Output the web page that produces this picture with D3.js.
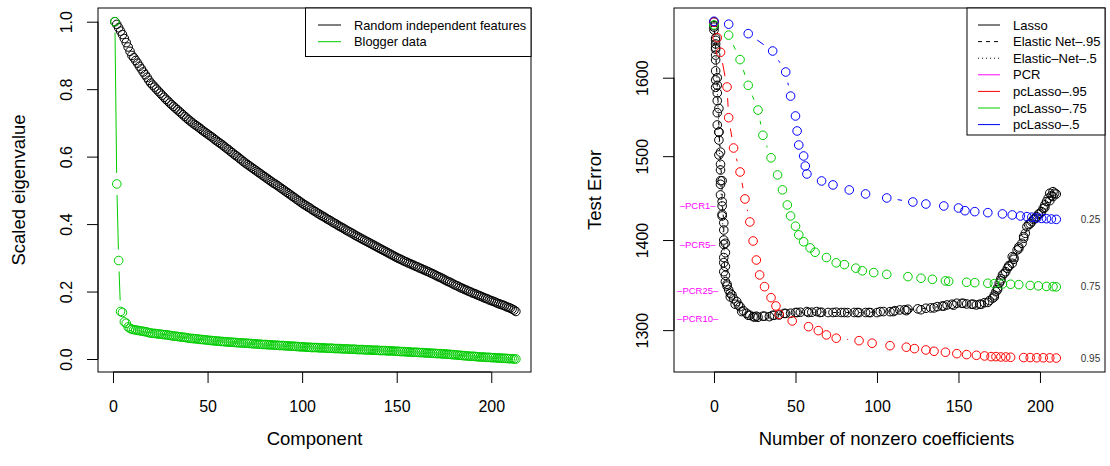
<!DOCTYPE html>
<html><head><meta charset="utf-8">
<script src="https://cdn.jsdelivr.net/npm/d3@7"></script>
<style>body{margin:0;background:#fff}</style>
</head><body>
<script>
// ---------------- DATA ----------------
// Left panel: scaled eigenvalues by component (1..213)
const randomEig = [1.000,0.992,0.982,0.972,0.962,0.950,0.938,0.925,0.912,0.900,
0.893,0.885,0.877,0.868,0.860,0.851,0.843,0.835,0.826,0.818,
0.812,0.806,0.800,0.794,0.788,0.782,0.776,0.770,0.765,0.759,
0.754,0.749,0.744,0.739,0.734,0.729,0.724,0.719,0.714,0.709,
0.705,0.700,0.696,0.692,0.688,0.684,0.679,0.675,0.671,0.667,
0.663,0.659,0.655,0.650,0.646,0.642,0.638,0.634,0.629,0.625,
0.621,0.616,0.612,0.607,0.603,0.599,0.594,0.590,0.585,0.581,
0.577,0.573,0.569,0.565,0.561,0.557,0.553,0.549,0.545,0.541,
0.537,0.533,0.529,0.525,0.521,0.518,0.514,0.510,0.506,0.502,
0.498,0.494,0.490,0.486,0.482,0.478,0.474,0.470,0.466,0.462,
0.458,0.455,0.451,0.448,0.444,0.440,0.437,0.433,0.430,0.426,
0.423,0.420,0.416,0.413,0.410,0.406,0.403,0.400,0.396,0.393,
0.390,0.387,0.383,0.380,0.377,0.374,0.371,0.367,0.364,0.361,
0.358,0.355,0.352,0.349,0.346,0.343,0.340,0.337,0.334,0.331,
0.328,0.325,0.322,0.319,0.316,0.313,0.310,0.307,0.304,0.301,
0.298,0.296,0.293,0.290,0.288,0.285,0.283,0.280,0.278,0.275,
0.273,0.270,0.268,0.265,0.263,0.260,0.258,0.255,0.253,0.250,
0.247,0.244,0.242,0.239,0.236,0.233,0.230,0.228,0.225,0.222,
0.219,0.217,0.214,0.211,0.209,0.206,0.204,0.201,0.199,0.196,
0.194,0.192,0.189,0.187,0.185,0.182,0.180,0.178,0.175,0.173,
0.171,0.169,0.166,0.164,0.162,0.160,0.158,0.155,0.153,0.151,
0.148,0.145,0.141];
const bloggerEig = [1.000,0.519,0.292,0.141,0.138,0.110,0.106,0.095,0.091,0.088,
0.087,0.086,0.085,0.084,0.083,0.082,0.081,0.080,0.078,0.077,
0.076,0.076,0.075,0.074,0.074,0.073,0.072,0.072,0.071,0.070,
0.069,0.068,0.068,0.067,0.066,0.065,0.065,0.064,0.063,0.062,
0.061,0.061,0.060,0.060,0.059,0.058,0.058,0.057,0.057,0.056,
0.055,0.055,0.054,0.054,0.053,0.053,0.052,0.052,0.051,0.051,
0.050,0.050,0.050,0.049,0.049,0.048,0.048,0.048,0.047,0.047,
0.047,0.046,0.046,0.045,0.045,0.045,0.044,0.044,0.043,0.043,
0.043,0.042,0.042,0.042,0.041,0.041,0.041,0.040,0.040,0.040,
0.039,0.039,0.039,0.038,0.038,0.038,0.037,0.037,0.036,0.036,
0.036,0.035,0.035,0.035,0.034,0.034,0.034,0.034,0.033,0.033,
0.033,0.033,0.032,0.032,0.032,0.032,0.031,0.031,0.031,0.031,
0.030,0.030,0.030,0.030,0.029,0.029,0.029,0.029,0.028,0.028,
0.028,0.028,0.027,0.027,0.027,0.027,0.026,0.026,0.026,0.026,
0.025,0.025,0.025,0.025,0.024,0.024,0.024,0.024,0.023,0.023,
0.023,0.022,0.022,0.022,0.021,0.021,0.021,0.020,0.020,0.020,
0.020,0.019,0.019,0.019,0.018,0.018,0.018,0.017,0.017,0.017,
0.016,0.016,0.016,0.015,0.015,0.015,0.014,0.014,0.013,0.013,
0.012,0.012,0.011,0.011,0.010,0.010,0.009,0.009,0.008,0.008,
0.008,0.007,0.007,0.006,0.006,0.006,0.005,0.005,0.005,0.004,
0.004,0.004,0.003,0.003,0.003,0.002,0.002,0.002,0.001,0.001,0.001,0.000,0.000];
const leftSeriesNames = ["Random independent features","Blogger data"];
const leftXTicks = [0,50,100,150,200];
const leftYTicks = [0.0,0.2,0.4,0.6,0.8,1.0];

// Right panel: test error vs number of nonzero coefficients
const lassoNz  = [0,0,1,1,1,1,1,1,1,2,2,2,3,3,4,4,4,5,5,6,7,7,6,6,7,9,11,14,16,20,24,27,34,40,47,53,60,66,75,82,89,96,100,108,114,119,130,137,143,149,155,161,166,171,173,175,177,180,183,183,186,189,191,192,195,198,201,203,205,206,208];
const lassoErr = [1675,1664,1653,1645,1638,1623.5,1609,1597,1587.4,1570,1554.6,1539,1520,1501.5,1483,1465.7,1452.9,1439.8,1428,1411.6,1396.3,1385.5,1374.2,1364,1352.9,1343.7,1338.2,1330.8,1325.4,1318.2,1314.5,1313.9,1314.5,1316.3,1318.2,1319.3,1319.3,1319.3,1319.3,1318.9,1318.9,1318.9,1318.9,1319.9,1321.8,1322.5,1323.6,1325.4,1327.2,1329.1,1328.3,1327.2,1329.7,1334.6,1341.8,1351.1,1360.4,1367.9,1373.5,1381,1388.6,1396.3,1407.8,1415.5,1421.3,1427.2,1433.1,1441,1448.9,1454.9,1456.8];
const enet95Nz  = [0,1,1,2,2,3,3,4,4,5,5,6,6,6,7,8,10,12,15,18,22,26,31,37,44,50,57,63,70,78,86,93,104,111,117,125,133,140,146,152,158,163,169,172,174,176,179,181,184,187,190,193,196,199,202,204,207,209];
const enet95Err = [1670,1650,1630,1600,1580,1560,1530,1505,1490,1470,1445,1420,1400,1380,1360,1348,1340,1334,1327,1321,1316,1315,1315,1316,1318,1319,1320,1320,1319,1319,1319,1319,1320,1321,1322,1323,1324,1326,1328,1329,1328,1328,1332,1338,1346,1356,1364,1370,1378,1392,1402,1418,1424,1430,1437,1445,1452,1455];
const enet5Nz  = [0,1,2,3,4,5,6,7,8,10,13,17,21,25,30,36,43,51,58,65,73,80,88,95,102,110,118,127,135,141,147,153,159,164,168,172,174,176,178,181,184,187,190,194,197,200,203,206,208,210];
const enet5Err = [1668,1640,1590,1530,1470,1430,1395,1370,1350,1336,1328,1320,1316,1314,1315,1316,1318,1319,1319,1319,1319,1319,1319,1319,1320,1320,1321,1322,1324,1326,1327,1329,1328,1328,1330,1336,1344,1354,1362,1371,1380,1390,1404,1419,1425,1431,1438,1446,1451,1454];
const pc95Nz  = [0,2,4,8,9,12,16,19,22,24,26,28,31,35,38,40,48,58,64,69,75,89,97,108,118,123,130,135,142,149,155,161,166,170,173,176,179,182,190,194,198,202,206,210];
const pc95Err = [1675,1653.5,1633.8,1587.8,1548.2,1510.1,1480.6,1448.1,1421,1398.9,1377.2,1360.4,1347.3,1335.2,1326.1,1317.1,1309.9,1303.7,1299.5,1294.9,1291.4,1288.8,1286.1,1283.5,1281.9,1280.4,1279,1277.6,1276.6,1275.1,1274.1,1273.4,1272.7,1272,1272,1271.6,1271.6,1271.3,1271,1271,1270.8,1270.8,1270.7,1270.5];
const pc75Nz  = [0,9,16,21,27,30,35,39,42,45,47,50,52,55,59,62,69,75,80,87,91,98,106,119,127,134,142,144,155,160,168,172,177,182,187,194,199,204,208,210];
const pc75Err = [1671,1657,1624,1590,1558,1526,1498,1477,1459,1441,1428,1416,1406,1398,1391,1386,1380,1374,1372,1368,1365,1363,1361,1358.5,1356.7,1355.5,1353.7,1353.3,1352.2,1351.8,1351.1,1350.7,1350.3,1350,1349.6,1348.7,1348.2,1347.6,1347.4,1347.1];
const pc50Nz  = [0,9,21,36,44,47,50,51,52,55,56,57,66,73,83,93,106,122,130,141,150,154,160,168,177,183,188,192,195,198,201,204,207,210];
const pc50Err = [1676,1672,1659,1635.5,1607.5,1576,1550.4,1531.4,1513.8,1500.2,1487.9,1478.2,1469.7,1464.9,1458.9,1454.1,1449.3,1444.5,1442.1,1439.8,1437.4,1434.2,1433.1,1431.9,1430.4,1429.2,1428,1427.2,1426.5,1425.6,1425.2,1424.8,1424.4,1424];
const pcrLabels = ["–PCR1–","–PCR5–","–PCR25–","–PCR10–"];
const pcrErr = [1440.6,1395,1342.9,1312.8];
const ratioLabels = ["0.25","0.75","0.95"];
const rightLegendNames = ["Lasso","Elastic Net–.95","Elastic–Net–.5","PCR","pcLasso–.95","pcLasso–.75","pcLasso–.5"];
const rightXTicks = [0,50,100,150,200];
const rightYTicks = [1300,1400,1500,1600];

// ---------------- DRAWING ----------------
const FONT = '"Liberation Sans", Arial, Helvetica, sans-serif';
const W = 1110, H = 466;
const svg = d3.select("body").append("svg").attr("width", W).attr("height", H)
  .style("font-family", FONT);
svg.append("rect").attr("width", W).attr("height", H).attr("fill", "#fff");

const PL = {x0: 98, x1: 531, y0: 8, y1: 372};
const PR = {x0: 674, x1: 1105, y0: 8, y1: 372};

const xL = d3.scaleLinear().domain([-7.93, 221]).range([PL.x0, PL.x1]);
const yL = d3.scaleLinear().domain([-0.0385, 1.0406]).range([PL.y1, PL.y0]);
const xR = d3.scaleLinear().domain([-24.54, 239.9]).range([PR.x0, PR.x1]);
const yR = d3.scaleLog().domain([1256, 1694.4]).range([PR.y1, PR.y0]);

const GREEN = "#00CD00";

function drawB(g, xs, ys, sx, sy, color, opts = {}) {
  const pts = xs.map((x, i) => [sx(x), sy(ys[i])]);
  const gap = opts.gap ?? 11;
  const lg = g.append("g").attr("stroke", color).attr("stroke-width", 1).attr("fill", "none");
  if (opts.dash) lg.attr("stroke-dasharray", opts.dash);
  for (let i = 0; i < pts.length - 1; i++) {
    const [x1, y1] = pts[i], [x2, y2] = pts[i + 1];
    const dx = x2 - x1, dy = y2 - y1, d = Math.hypot(dx, dy);
    if (d <= 2 * gap || d === 0) continue;
    const ux = dx / d, uy = dy / d;
    lg.append("line").attr("x1", x1 + ux * gap).attr("y1", y1 + uy * gap)
      .attr("x2", x2 - ux * gap).attr("y2", y2 - uy * gap);
  }
  g.append("g").selectAll("circle").data(pts).join("circle")
    .attr("cx", d => d[0]).attr("cy", d => d[1]).attr("r", 4.3)
    .attr("fill", "none").attr("stroke", color).attr("stroke-width", 1);
}

function yAxis(scale, ticks, fmt, x) {
  const ax = d3.axisLeft(scale).tickValues(ticks).tickFormat(fmt).tickSize(11).tickSizeOuter(0);
  const a = svg.append("g").attr("transform", `translate(${x},0)`).call(ax)
    .attr("font-family", FONT).attr("font-size", 16);
  a.select(".domain").remove();
  a.selectAll(".tick line").attr("stroke", "#000");
  a.selectAll(".tick text").attr("x", null).attr("dy", null)
    .attr("transform", "translate(-32,0) rotate(-90)")
    .attr("text-anchor", "middle").attr("dominant-baseline", "central").attr("fill", "#000");
  a.append("line").attr("x1", 0).attr("x2", 0)
    .attr("y1", scale(ticks[0])).attr("y2", scale(ticks[ticks.length - 1])).attr("stroke", "#000");
}
function xAxis(scale, ticks, y) {
  const ax = d3.axisBottom(scale).tickValues(ticks).tickSize(11).tickSizeOuter(0).tickPadding(18);
  const a = svg.append("g").attr("transform", `translate(0,${y})`).call(ax)
    .attr("font-family", FONT).attr("font-size", 16);
  a.select(".domain").remove();
  a.selectAll(".tick line").attr("stroke", "#000");
  a.selectAll(".tick text").attr("fill", "#000");
  a.append("line").attr("y1", 0).attr("y2", 0)
    .attr("x1", scale(ticks[0])).attr("x2", scale(ticks[ticks.length - 1])).attr("stroke", "#000");
}
function box(P) {
  svg.append("rect").attr("x", P.x0).attr("y", P.y0).attr("width", P.x1 - P.x0).attr("height", P.y1 - P.y0)
    .attr("fill", "none").attr("stroke", "#000").attr("stroke-width", 1);
}

// ---- Left panel
const gL = svg.append("g");
const comp = randomEig.map((_, i) => i + 1);
drawB(gL, comp, randomEig, xL, yL, "#000");
drawB(gL, comp, bloggerEig, xL, yL, GREEN);
box(PL);
xAxis(xL, leftXTicks, PL.y1);
yAxis(yL, leftYTicks, d3.format(".1f"), PL.x0);
svg.append("text").attr("x", (PL.x0 + PL.x1) / 2).attr("y", 445).attr("text-anchor", "middle")
  .attr("font-size", 18.5).text("Component");
svg.append("text").attr("transform", `translate(18,${(PL.y0 + PL.y1) / 2}) rotate(-90)`)
  .attr("text-anchor", "middle").attr("dominant-baseline", "central").attr("font-size", 18.5)
  .text("Scaled eigenvalue");
// left legend
const legL = svg.append("g");
legL.append("rect").attr("x", 305.5).attr("y", PL.y0).attr("width", PL.x1 - 305.5).attr("height", 48.5)
  .attr("fill", "#fff").attr("stroke", "#000");
[["#000", leftSeriesNames[0]], [GREEN, leftSeriesNames[1]]].forEach(([c, t], i) => {
  const yy = 25 + i * 16.7;
  legL.append("line").attr("x1", 318).attr("x2", 341).attr("y1", yy).attr("y2", yy).attr("stroke", c);
  legL.append("text").attr("x", 354).attr("y", yy).attr("dominant-baseline", "central")
    .attr("font-size", 12.8).text(t);
});

// ---- Right panel
const gR = svg.append("g");
drawB(gR, lassoNz, lassoErr, xR, yR, "#000");
drawB(gR, enet95Nz, enet95Err, xR, yR, "#000", {dash: "4,4", gap: 5});
drawB(gR, enet5Nz, enet5Err, xR, yR, "#000", {dash: "1,3", gap: 5});
drawB(gR, pc95Nz, pc95Err, xR, yR, "#FF0000");
drawB(gR, pc75Nz, pc75Err, xR, yR, GREEN);
drawB(gR, pc50Nz, pc50Err, xR, yR, "#0000FF");
box(PR);
xAxis(xR, rightXTicks, PR.y1);
yAxis(yR, rightYTicks, d3.format("d"), PR.x0);
svg.append("text").attr("x", (PR.x0 + PR.x1) / 2 - 3).attr("y", 445).attr("text-anchor", "middle")
  .attr("font-size", 18.5).text("Number of nonzero coefficients");
svg.append("text").attr("transform", `translate(594.5,${(PR.y0 + PR.y1) / 2}) rotate(-90)`)
  .attr("text-anchor", "middle").attr("dominant-baseline", "central").attr("font-size", 18.5)
  .text("Test Error");
// PCR labels
pcrLabels.forEach((t, i) => {
  svg.append("text").attr("x", xR(-10)).attr("y", yR(pcrErr[i])).attr("text-anchor", "middle")
    .attr("dominant-baseline", "central").attr("font-size", 9.5).attr("fill", "#FF00FF").text(t);
});
// ratio labels at the end of each pcLasso curve
[[pc50Err, ratioLabels[0]], [pc75Err, ratioLabels[1]], [pc95Err, ratioLabels[2]]].forEach(([arr, t]) => {
  svg.append("text").attr("x", xR(231)).attr("y", yR(arr[arr.length - 1])).attr("text-anchor", "middle")
    .attr("dominant-baseline", "central").attr("font-size", 10).attr("fill", "#333").text(t);
});
// right legend
const legR = svg.append("g");
legR.append("rect").attr("x", 967).attr("y", PR.y0).attr("width", PR.x1 - 967).attr("height", 127)
  .attr("fill", "#fff").attr("stroke", "#000");
const legStyles = [
  ["#000", null], ["#000", "4,4"], ["#000", "1,3"], ["#FF00FF", null],
  ["#FF0000", null], [GREEN, null], ["#0000FF", null]
];
rightLegendNames.forEach((t, i) => {
  const yy = 25 + i * 16.6;
  const ln = legR.append("line").attr("x1", 978).attr("x2", 1000).attr("y1", yy).attr("y2", yy)
    .attr("stroke", legStyles[i][0]);
  if (legStyles[i][1]) ln.attr("stroke-dasharray", legStyles[i][1]);
  legR.append("text").attr("x", 1013).attr("y", yy).attr("dominant-baseline", "central")
    .attr("font-size", 13).text(t);
});
</script>
</body></html>
